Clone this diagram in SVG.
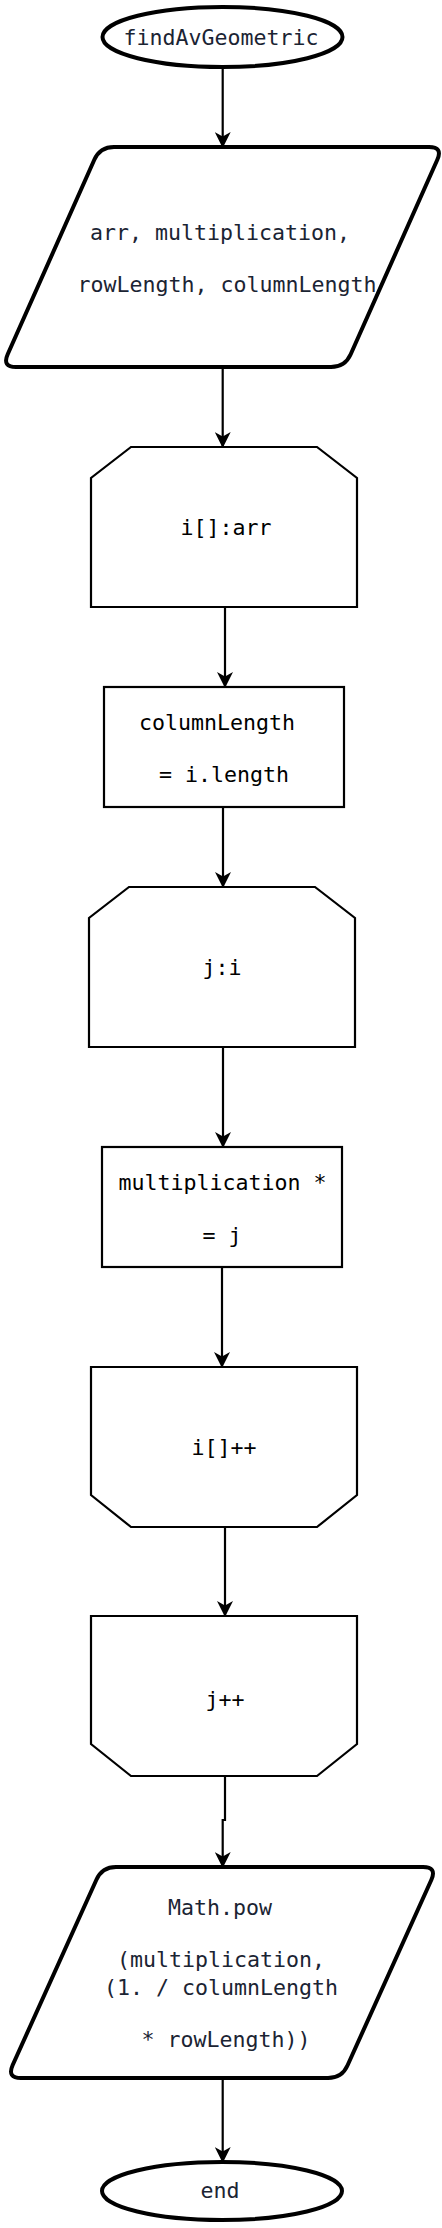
<svg xmlns="http://www.w3.org/2000/svg" width="442" height="2228" viewBox="0 0 442 2228">
<style>
  .bold { fill: #ffffff; stroke: #000000; stroke-width: 4; stroke-linejoin: round; }
  .thin { fill: #ffffff; stroke: #000000; stroke-width: 2.2; stroke-linejoin: miter; }
  .edge { fill: none; stroke: #000000; stroke-width: 2.2; marker-end: url(#arrow); }
  text { font-family: "DejaVu Sans Mono", "Liberation Mono", monospace; font-size: 21.6px; text-anchor: middle; }
  .navy { fill: #1b2433; }
  .blk { fill: #000000; }
</style>
<defs>
  <marker id="arrow" viewBox="0 0 16 16" refX="15" refY="8" markerWidth="16" markerHeight="16" markerUnits="userSpaceOnUse" orient="auto">
    <path d="M0,0 L16,8 L0,16 L4.5,8 Z" fill="#000000"/>
  </marker>
</defs>
<rect width="442" height="2228" fill="#ffffff"/>
<g id="connectors">
  <path class="edge" d="M222.7,67 V147"/>
  <path class="edge" d="M222.7,367 V447"/>
  <path class="edge" d="M225,607 V687"/>
  <path class="edge" d="M223,807 V887"/>
  <path class="edge" d="M223,1047 V1147"/>
  <path class="edge" d="M222,1267 V1367"/>
  <path class="edge" d="M225,1527 V1616"/>
  <path class="edge" d="M225,1776 V1820 H222.7 V1867"/>
  <path class="edge" d="M222.7,2078 V2162"/>
</g>
<g id="start">
  <ellipse class="bold" cx="222.5" cy="37" rx="120" ry="30"/>
  <text class="navy" x="221" y="45">findAvGeometric</text>
</g>
<g id="input">
  <path class="bold" d="M114,147 L429,147 Q443,147 437.3,159.8 L350.7,354.2 Q345,367 331,367 L16,367 Q2,367 7.7,354.2 L94.3,159.8 Q100,147 114,147 Z"/>
  <text class="navy" x="220" y="240">arr, multiplication,</text>
  <text class="navy" x="227" y="292">rowLength, columnLength</text>
</g>
<g id="loop-i">
  <polygon class="thin" points="131,447 317,447 357,478 357,607 91,607 91,478"/>
  <text class="blk" x="226" y="535">i[]:arr</text>
</g>
<g id="assign-column">
  <rect class="thin" x="104" y="687" width="240" height="120"/>
  <text class="blk" x="217" y="730">columnLength</text>
  <text class="blk" x="224" y="782">= i.length</text>
</g>
<g id="loop-j">
  <polygon class="thin" points="129,887 315,887 355,918 355,1047 89,1047 89,918"/>
  <text class="blk" x="222" y="975">j:i</text>
</g>
<g id="multiply">
  <rect class="thin" x="102" y="1147" width="240" height="120"/>
  <text class="blk" x="222.5" y="1190">multiplication *</text>
  <text class="blk" x="222" y="1243">= j</text>
</g>
<g id="loop-i-end">
  <polygon class="thin" points="91,1367 357,1367 357,1495 317,1527 131,1527 91,1495"/>
  <text class="blk" x="224" y="1455">i[]++</text>
</g>
<g id="loop-j-end">
  <polygon class="thin" points="91,1616 357,1616 357,1744 317,1776 131,1776 91,1744"/>
  <text class="blk" x="225" y="1707">j++</text>
</g>
<g id="output">
  <path class="bold" d="M116,1867 L423,1867 Q437,1867 431.4,1879.8 L347.6,2065.2 Q342,2078 328,2078 L21,2078 Q7,2078 12.6,2065.2 L96.4,1879.8 Q102,1867 116,1867 Z"/>
  <text class="navy" x="220" y="1915">Math.pow</text>
  <text class="navy" x="221" y="1967">(multiplication,</text>
  <text class="navy" x="221" y="1995">(1. / columnLength</text>
  <text class="navy" x="226" y="2047">* rowLength))</text>
</g>
<g id="end">
  <ellipse class="bold" cx="222" cy="2191" rx="120" ry="29"/>
  <text class="navy" x="220" y="2198">end</text>
</g>
</svg>
